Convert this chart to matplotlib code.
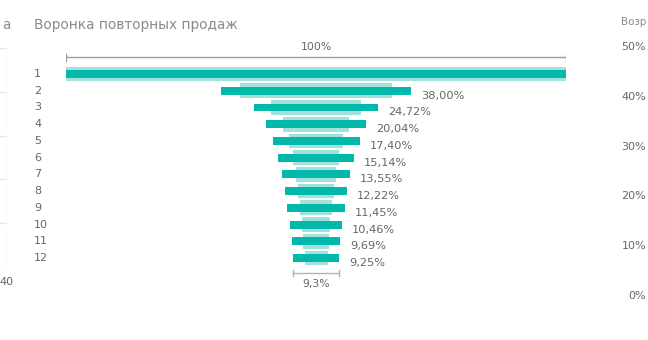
import matplotlib
matplotlib.use("Agg")
import matplotlib.pyplot as plt

# ---- data ----
stages = ["1", "2", "3", "4", "5", "6", "7", "8", "9", "10", "11", "12"]
values = [100.0, 38.00, 24.72, 20.04, 17.40, 15.14, 13.55, 12.22, 11.45, 10.46, 9.69, 9.25]
value_labels = ["100%", "38,00%", "24,72%", "20,04%", "17,40%", "15,14%", "13,55%",
                "12,22%", "11,45%", "10,46%", "9,69%", "9,25%"]
ghost_values = [100.0, 30.4, 18.0, 13.2, 10.8, 9.2, 8.0, 7.2, 6.3, 5.6, 5.2, 4.6]
title = "Воронка повторных продаж"
top_label = "100%"
bottom_label = "9,3%"
right_title = "Возр"
right_ticks = [0, 10, 20, 30, 40, 50]
right_tick_labels = ["0%", "10%", "20%", "30%", "40%", "50%"]
left_title = "а"
left_tick = 40

W, H = 648, 340
DARK = "#01B8AA"
LIGHT = "#A3E2DC"
TXT = "#666666"

plt.rcParams['font.family'] = ['DejaVu Sans']
fig = plt.figure(figsize=(W / 100, H / 100), dpi=100)

# ---- funnel axes: x 0..100 maps to pixels 66..566, full height ----
x0, x1 = 66, 566
ax = fig.add_axes([x0 / W, 0, (x1 - x0) / W, 1])
ax.set_xlim(0, 100)
row_px0 = 74.0
row_step = 16.73
top_val = 1 - row_px0 / row_step
bot_val = 1 + (H - row_px0) / row_step
ax.set_ylim(bot_val, top_val)
ax.axis("off")

ys = list(range(1, len(stages) + 1))
ax.barh(ys, ghost_values, left=[50 - g / 2 for g in ghost_values], height=0.88,
        color=LIGHT, edgecolor="none")
ax.barh(ys, values, left=[50 - v / 2 for v in values], height=0.47,
        color=DARK, edgecolor="none")

for y, s in zip(ys, stages):
    ax.text(-6.4, y, s, ha="left", va="center", fontsize=8, color=TXT, clip_on=False)

for y, v, lab in list(zip(ys, values, value_labels))[1:]:
    ax.text(50 + v / 2 + 2.0, y + 0.3, lab, ha="left", va="center",
            fontsize=8.2, color=TXT)

# top bracket
yb = 0.0
ax.plot([0, 100], [yb, yb], color="#9a9a9a", lw=1)
ax.plot([0, 0], [yb - 0.2, yb + 0.2], color="#9a9a9a", lw=1)
ax.plot([100, 100], [yb - 0.2, yb + 0.2], color="#9a9a9a", lw=1)
ax.text(50, yb - 0.6, top_label, ha="center", va="center", fontsize=7.8, color=TXT)

# bottom bracket
last = values[-1]
yb2 = 12.9
bc = "#9fbcb8"
ax.plot([50 - last / 2, 50 + last / 2], [yb2, yb2], color=bc, lw=1)
ax.plot([50 - last / 2] * 2, [yb2 - 0.2, yb2 + 0.2], color=bc, lw=1)
ax.plot([50 + last / 2] * 2, [yb2 - 0.2, yb2 + 0.2], color=bc, lw=1)
ax.text(50, yb2 + 0.65, bottom_label, ha="center", va="center", fontsize=7.8, color=TXT)

fig.text(34 / W, 1 - 25 / H, title, ha="left", va="center", fontsize=9.8, color="#8a8a8a")

# ---- right partial axis ----
axr = fig.add_axes([646 / W, (H - 295) / H, 0.0005, (295 - 46) / H])
axr.set_ylim(0, 50)
axr.set_yticks(right_ticks)
axr.set_yticklabels(right_tick_labels, fontsize=8, color=TXT)
axr.tick_params(axis="y", length=0, pad=0)
axr.set_xticks([])
for sp in axr.spines.values():
    sp.set_visible(False)
axr.patch.set_visible(False)
fig.text(621 / W, 1 - 22 / H, right_title, ha="left", va="center", fontsize=7.4, color="#8a8a8a")

# ---- left partial chart ----
axl = fig.add_axes([-60 / W, (H - 267) / H, 67 / W, (267 - 48) / H])
axl.set_xlim(-340, left_tick)
axl.set_ylim(0, 5)
for yl in [0, 1, 2, 3, 4, 5]:
    axl.axhline(yl, color="#e6e6e6", lw=1)
axl.axvline(left_tick, color="#e6e6e6", lw=1)
axl.set_xticks([left_tick])
axl.set_xticklabels([str(left_tick)], fontsize=8, color=TXT)
axl.tick_params(axis="x", length=0, pad=7)
axl.set_yticks([])
for sp in axl.spines.values():
    sp.set_visible(False)
axl.patch.set_visible(False)
fig.text(2 / W, 1 - 25 / H, left_title, ha="left", va="center", fontsize=9.8, color="#8a8a8a")

fig.savefig("out.png", dpi=100, facecolor="white")
